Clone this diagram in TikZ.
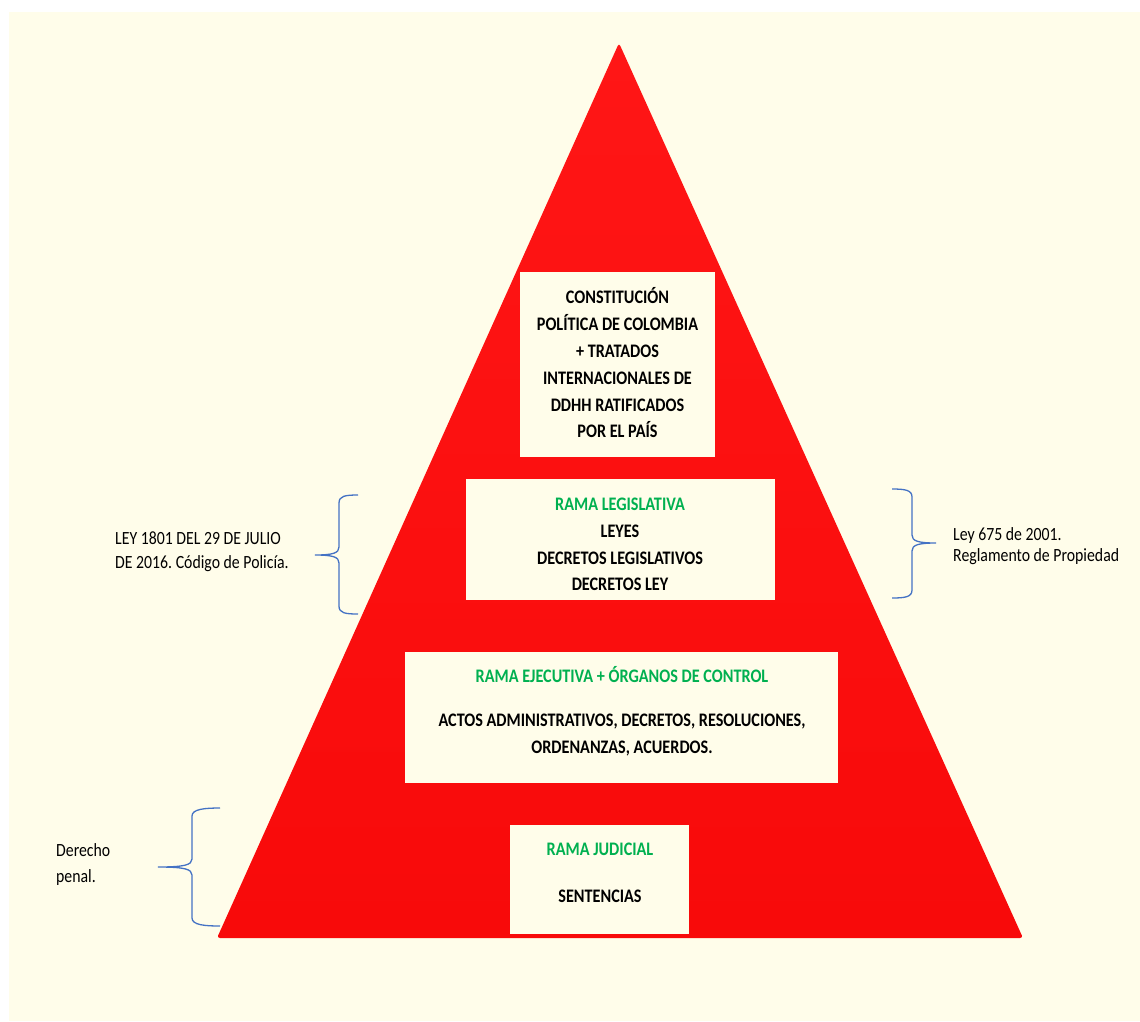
\documentclass[tikz,border=0pt]{standalone}
\usepackage{fontspec}
\setmainfont{Carlito}
\frenchspacing
\definecolor{cream}{RGB}{255,253,234}
\definecolor{pyr}{RGB}{248,10,10}
\definecolor{pyrtop}{RGB}{255,22,22}
\definecolor{grn}{RGB}{0,176,80}
\definecolor{brc}{RGB}{68,114,196}
\newcommand\vst[1]{\scalebox{1}[1.18]{#1}}
\begin{document}
\begin{tikzpicture}[x=1pt,y=-1pt,
 bx/.style={fill=cream, draw=none, inner sep=0pt},
 bl/.style={anchor=base, font=\fontsize{16.2}{19}\selectfont\bfseries, inner sep=0pt},
 gl/.style={bl, text=grn},
 lbl/.style={anchor=base west, font=\fontsize{15.8}{19}\selectfont, inner sep=0pt},
 brace/.style={draw=brc, line width=1.3pt}]
\useasboundingbox (0,0) rectangle (1140,1021);
\fill[white] (0,0) rectangle (1140,1021);
\fill[cream] (9,12) rectangle (1140,1021);
% pyramid
\coordinate (apex) at (619,43);
\coordinate (br) at (1023,938);
\coordinate (bl) at (217,938);
\shade[top color=pyrtop, bottom color=pyr, rounded corners=3pt] (apex) -- (br) -- (bl) -- cycle;
% boxes
\node[bx, minimum width=195pt, minimum height=185pt] (b1) at (617.5,364.5) {};
\node[bx, minimum width=309pt, minimum height=121pt] (b2) at (620.5,539.5) {};
\node[bx, minimum width=433pt, minimum height=131pt] (b3) at (621.5,717.5) {};
\node[bx, minimum width=179pt, minimum height=109pt] (b4) at (599.5,879.5) {};
% box 1 text
\node[bl] (t11) at (617.5,303) {\vst{CONSTITUCIÓN}};
\node[bl] (t12) at (617.5,330) {\vst{POLÍTICA DE COLOMBIA}};
\node[bl] (t13) at (617.5,357) {\vst{+ TRATADOS}};
\node[bl] (t14) at (617.5,384) {\vst{INTERNACIONALES DE}};
\node[bl] (t15) at (617.5,411) {\vst{DDHH RATIFICADOS}};
\node[bl] (t16) at (617.5,437) {\vst{POR EL PAÍS}};
% box 2 text
\node[gl] (t21) at (620,510) {\vst{RAMA LEGISLATIVA}};
\node[bl] (t22) at (620,537.5) {\vst{LEYES}};
\node[bl] (t23) at (620,564) {\vst{DECRETOS LEGISLATIVOS}};
\node[bl] (t24) at (620,590.5) {\vst{DECRETOS LEY}};
% box 3 text
\node[gl] (t31) at (622,682.5) {\vst{RAMA EJECUTIVA + ÓRGANOS DE CONTROL}};
\node[bl] (t32) at (622,726) {\vst{ACTOS ADMINISTRATIVOS, DECRETOS, RESOLUCIONES,}};
\node[bl] (t33) at (622,753) {\vst{ORDENANZAS, ACUERDOS.}};
% box 4 text
\node[gl] (t41) at (600,855.5) {\vst{RAMA JUDICIAL}};
\node[bl] (t42) at (600,902) {\vst{SENTENCIAS}};
% side labels
\node[lbl] (la1) at (115,544) {\vst{LEY 1801 DEL 29 DE JULIO}};
\node[lbl] (la2) at (115,568) {\vst{DE 2016. Código de Policía.}};
\node[lbl] (lb1) at (953,540) {\vst{Ley 675 de 2001.}};
\node[lbl] (lb2) at (953,561) {\vst{Reglamento de Propiedad}};
\node[lbl] (lc1) at (56,856) {\vst{Derecho}};
\node[lbl] (lc2) at (56,882.5) {\vst{penal.}};
% braces
\coordinate (pA) at (315,555);
\coordinate (pB) at (936,543);
\coordinate (pC) at (158,867);
\draw[brace] (358,495) .. controls (345,495) and (339,496) .. (339,503) -- (339,547)
  .. controls (339,553) and (333,555) .. (pA)
  .. controls (333,555) and (339,557) .. (339,563) -- (339,606)
  .. controls (339,613) and (345,614) .. (358,614);
\draw[brace] (892,489) .. controls (905,489) and (912,490) .. (912,497) -- (912,535)
  .. controls (912,541) and (918,543) .. (pB)
  .. controls (918,543) and (912,545) .. (912,551) -- (912,590)
  .. controls (912,597) and (905,598) .. (892,598);
\draw[brace] (220,808) .. controls (205,808) and (192,809) .. (192,816) -- (192,859)
  .. controls (192,865) and (184,867) .. (pC)
  .. controls (184,867) and (192,869) .. (192,875) -- (192,918)
  .. controls (192,925) and (205,926) .. (220,926);
\end{tikzpicture}
\end{document}
